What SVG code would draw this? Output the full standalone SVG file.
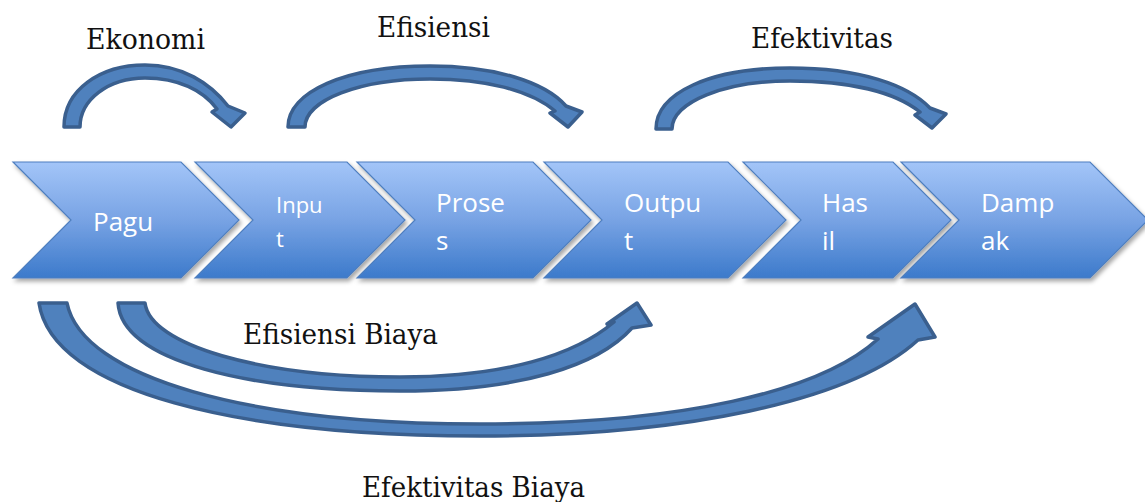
<svg xmlns="http://www.w3.org/2000/svg" width="1145" height="502" viewBox="0 0 1145 502">
  <defs>
    <linearGradient id="chevFill" x1="0" y1="0" x2="0" y2="1">
      <stop offset="0" stop-color="#a3c5f8"/>
      <stop offset="0.5" stop-color="#78a3e4"/>
      <stop offset="1" stop-color="#3c7acb"/>
    </linearGradient>
    <filter id="shadow" x="-10%" y="-10%" width="130%" height="140%">
      <feDropShadow dx="2" dy="3" stdDeviation="2.2" flood-color="#000" flood-opacity="0.35"/>
    </filter>
  </defs>
  <style>
    .chev { fill: url(#chevFill); stroke: #4f7fbf; stroke-width: 1.2; filter: url(#shadow); }
    .lbl { font-family: "Open Sans", "Liberation Sans", sans-serif; fill: #ffffff; font-size: 26px; }
    .lbl-sm { font-size: 22px; }
    .arr { fill: #4f81bd; stroke: #3a5f8e; stroke-width: 3.5; stroke-linejoin: round; }
    .cap { font-family: "DejaVu Serif", "Liberation Serif", serif; fill: #111111; font-size: 27px; }
  </style>

  <!-- process chevrons -->
  <g id="node-pagu">
    <path class="chev" d="M13,162 L181,162 L239,220 L181,278 L13,278 L71,220 Z"/>
    <text class="lbl" x="93" y="231" font-size="27">Pagu</text>
  </g>
  <g id="node-input">
    <path class="chev" d="M195,162 L347,162 L405,220 L347,278 L195,278 L253,220 Z"/>
    <text class="lbl lbl-sm" x="276" y="213">Inpu</text>
    <text class="lbl lbl-sm" x="276" y="247">t</text>
  </g>
  <g id="node-proses">
    <path class="chev" d="M357,162 L533,162 L591,220 L533,278 L357,278 L415,220 Z"/>
    <text class="lbl" x="436" y="212">Prose</text>
    <text class="lbl" x="436" y="250">s</text>
  </g>
  <g id="node-output">
    <path class="chev" d="M544,162 L728,162 L786,220 L728,278 L544,278 L602,220 Z"/>
    <text class="lbl" x="624" y="212">Outpu</text>
    <text class="lbl" x="624" y="250">t</text>
  </g>
  <g id="node-hasil">
    <path class="chev" d="M743,162 L893,162 L951,220 L893,278 L743,278 L801,220 Z"/>
    <text class="lbl" x="822" y="212">Has</text>
    <text class="lbl" x="822" y="250">il</text>
  </g>
  <g id="node-dampak">
    <path class="chev" d="M901,162 L1090,162 L1148,220 L1090,278 L901,278 L959,220 Z"/>
    <text class="lbl" x="981" y="212">Damp</text>
    <text class="lbl" x="981" y="250">ak</text>
  </g>

  <!-- curved arrows between stages -->
  <g id="connectors">
    <!-- Ekonomi: Pagu to Input -->
    <path class="arr" d="M64,127 C64,90 100,65 145,65 C182,65 210,83 228,106 L245,113 L231,127 L212,112 L217,109 C203,90 178,78 145,78 C108,78 80,100 80,127 Z"/>
    <!-- Efisiensi: Input to Output -->
    <path class="arr" d="M288,127 C288,92 345,66 430,66 C495,66 545,82 566,106 L582,112 L568,127 L550,113 L555,111 C530,90 485,79 430,79 C360,79 305,100 305,127 Z"/>
    <!-- Efektivitas: Output to Dampak -->
    <path class="arr" d="M656,129 C656,93 710,68 790,68 C860,68 908,85 930,108 L946,114 L932,128 L915,115 L920,112 C895,92 850,81 790,81 C725,81 672,102 672,129 Z"/>
    <!-- Efisiensi Biaya: Pagu to Output -->
    <path class="arr" d="M118,303 L145,303 C150,345 260,377 400,377 C505,377 575,355 614,322 L607,324 L637,303 L651,325 L632,328 C598,366 520,391 400,391 C250,391 122,362 118,303 Z"/>
    <!-- Efektivitas Biaya: Pagu to Dampak -->
    <path class="arr" d="M39,303 L67,303 C82,378 250,424 480,424 C680,424 820,392 878,339 L868,337 L915,304 L935,337 L918,340 C850,402 680,436 480,436 C240,436 52,392 39,303 Z"/>
  </g>

  <!-- arrow captions -->
  <text class="cap" x="86" y="49" textLength="119" lengthAdjust="spacingAndGlyphs">Ekonomi</text>
  <text class="cap" x="377" y="37" textLength="113" lengthAdjust="spacingAndGlyphs">Efisiensi</text>
  <text class="cap" x="751" y="48" textLength="142" lengthAdjust="spacingAndGlyphs">Efektivitas</text>
  <text class="cap" x="243" y="344" textLength="195" lengthAdjust="spacingAndGlyphs">Efisiensi Biaya</text>
  <text class="cap" x="362" y="497" textLength="223" lengthAdjust="spacingAndGlyphs">Efektivitas Biaya</text>
</svg>
